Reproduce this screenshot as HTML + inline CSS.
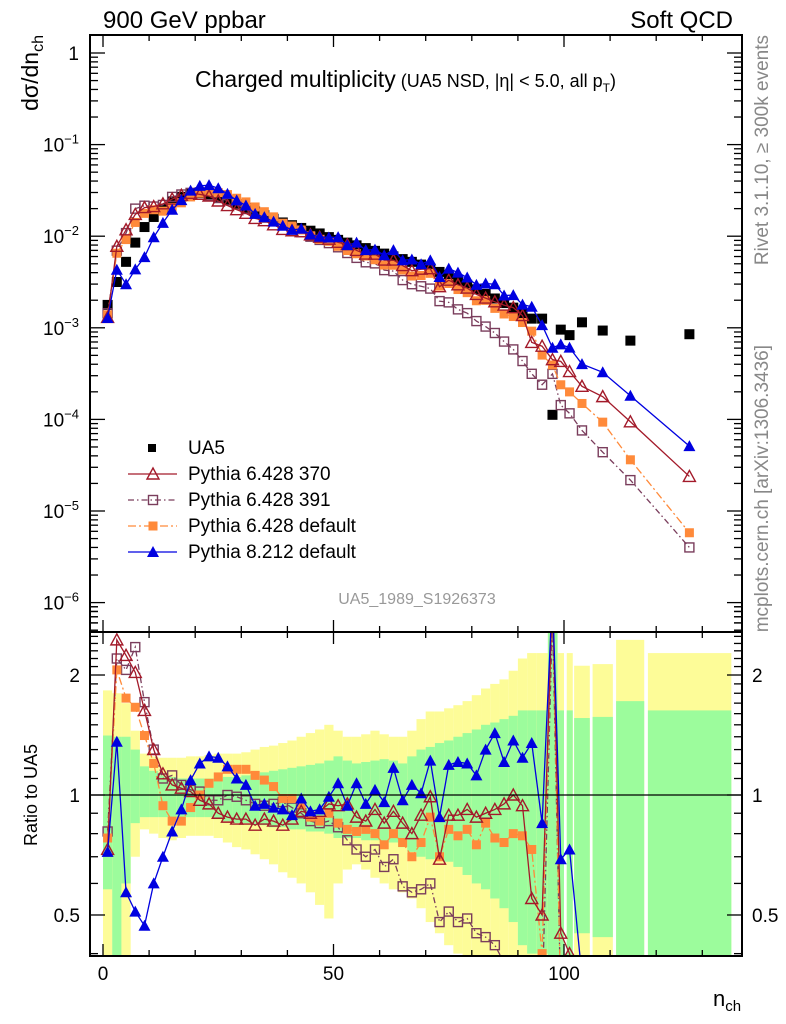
<!DOCTYPE html>
<html><head><meta charset="utf-8"><style>
html,body{margin:0;padding:0;background:#fff;width:786px;height:1024px;overflow:hidden}
svg{display:block;font-family:"Liberation Sans",sans-serif}
</style></head><body>
<svg id="chart" width="786" height="1024" viewBox="0 0 786 1024" xmlns="http://www.w3.org/2000/svg">
<defs>
<clipPath id="cpTop"><rect x="90" y="35" width="652" height="597"/></clipPath>
<clipPath id="cpBot"><rect x="90" y="632" width="652" height="324"/></clipPath>
</defs>
<rect x="0" y="0" width="786" height="1024" fill="#fff"/>
<g id="bands" clip-path="url(#cpBot)"></g>
<g id="marksTop" clip-path="url(#cpTop)"></g>
<g id="marksBot" clip-path="url(#cpBot)"></g>
<g id="axes"></g>
<text x="103" y="28" font-size="24">900 GeV ppbar</text>
<text x="733" y="28" font-size="24" text-anchor="end">Soft QCD</text>
<text x="195" y="87" font-size="23">Charged multiplicity<tspan font-size="18" dx="5">(UA5 NSD, |η| &lt; 5.0, all p</tspan><tspan font-size="12" dy="5">T</tspan><tspan font-size="18" dy="-5">)</tspan></text>
<text transform="translate(38,35) rotate(-90)" font-size="23" text-anchor="end">dσ/dn<tspan font-size="16" dy="5">ch</tspan></text>
<text transform="translate(37,795) rotate(-90)" font-size="18" text-anchor="middle">Ratio to UA5</text>
<text transform="translate(768,35) rotate(-90)" font-size="19" fill="#888" text-anchor="end">Rivet 3.1.10, ≥ 300k events</text>
<text transform="translate(768,345) rotate(-90)" font-size="19" fill="#888" text-anchor="end">mcplots.cern.ch [arXiv:1306.3436]</text>
<text x="417" y="604" font-size="16" fill="#999" text-anchor="middle">UA5_1989_S1926373</text>
<text x="713" y="1006" font-size="22">n<tspan font-size="15" dy="5">ch</tspan></text>
<g id="legend"></g>
</svg>
<script>
// ---- data ----
const nch = [1,3,5,7,9,11,13,15,17,19,21,23,25,27,29,31,33,35,37,39,41,43,45,47,49,51,53,55,57,59,61,63,65,67,69,71,73,75,77,79,81,83,85,87,89,91,93,95.25,97.5,99.3,101.2,103.9,108.4,114.4,127.2];
const binLo = [0,2,4,6,8,10,12,14,16,18,20,22,24,26,28,30,32,34,36,38,40,42,44,46,48,50,52,54,56,58,60,62,64,66,68,70,72,74,76,78,80,82,84,86,88,90,92,94,96.5,98.6,100.6,102.2,106.2,111.3,118.2];
const binHi = [2,4,6,8,10,12,14,16,18,20,22,24,26,28,30,32,34,36,38,40,42,44,46,48,50,52,54,56,58,60,62,64,66,68,70,72,74,76,78,80,82,84,86,88,90,92,94,96.5,98.6,100,101.9,105.6,110.6,117.4,136.3];
// UA5 log10(dsigma/dn)
const ua5Log = [-2.75,-2.50,-2.28,-2.07,-1.90,-1.79,-1.70,-1.62,-1.57,-1.54,-1.53,-1.54,-1.57,-1.61,-1.65,-1.69,-1.73,-1.77,-1.81,-1.85,-1.88,-1.91,-1.94,-1.97,-2.01,-2.04,-2.07,-2.10,-2.13,-2.16,-2.19,-2.22,-2.25,-2.28,-2.31,-2.35,-2.39,-2.43,-2.48,-2.53,-2.58,-2.63,-2.68,-2.73,-2.78,-2.84,-2.90,-2.90,-3.95,-3.02,-3.08,-2.94,-3.03,-3.14,-3.07];
// MC / UA5 ratios
const r370 = [0.73,2.45,2.24,2.03,1.63,1.30,1.13,1.06,1.04,1.02,0.97,0.95,0.90,0.88,0.87,0.87,0.84,0.87,0.86,0.84,0.87,0.91,0.90,0.91,0.95,0.94,0.95,0.88,0.86,0.92,0.85,0.91,0.85,0.80,0.89,0.99,0.69,0.89,0.89,0.92,0.88,0.90,0.92,0.95,1.00,0.94,0.55,0.50,4.0,0.45,0.40,0.20,0.19,0.13,0.028];
const r391 = [0.81,2.20,2.06,2.35,1.71,1.30,1.10,1.12,1.06,1.03,1.02,0.97,0.97,1.00,0.99,0.97,0.95,0.94,0.95,0.96,0.93,0.90,0.86,0.85,0.86,0.83,0.77,0.73,0.70,0.73,0.66,0.69,0.59,0.57,0.58,0.60,0.48,0.51,0.48,0.49,0.45,0.44,0.42,0.38,0.35,0.30,0.25,0.19,2.8,0.15,0.14,0.066,0.047,0.030,0.0047];
const rDef = [0.78,2.06,1.75,1.66,1.41,1.20,0.94,0.86,0.86,0.93,1.00,1.07,1.11,1.16,1.16,1.16,1.12,1.09,1.05,0.98,0.98,0.95,0.88,0.86,0.90,0.85,0.82,0.81,0.82,0.80,0.75,0.80,0.76,0.70,0.76,0.88,0.70,0.82,0.79,0.82,0.75,0.85,0.78,0.76,0.80,0.79,0.73,0.40,3.5,0.25,0.24,0.13,0.10,0.050,0.0068];
const rP8 = [0.72,1.36,0.57,0.51,0.47,0.60,0.70,0.81,0.92,1.09,1.20,1.25,1.24,1.18,1.10,1.06,0.94,0.95,0.93,0.92,0.89,0.98,0.91,0.92,0.99,1.07,0.94,1.07,0.95,1.03,0.96,1.17,0.97,1.06,1.01,1.22,0.88,1.19,1.21,1.20,1.12,1.30,1.43,1.21,1.37,1.24,1.35,0.85,5.4,0.69,0.73,0.35,0.35,0.25,0.06];
// UA5 uncertainty bands (ratio units)
const yellowHi = [1.83,1.80,1.70,1.45,1.27,1.25,1.24,1.24,1.24,1.25,1.25,1.26,1.27,1.27,1.27,1.28,1.30,1.32,1.33,1.35,1.37,1.40,1.43,1.46,1.50,1.45,1.40,1.40,1.42,1.45,1.42,1.40,1.40,1.45,1.55,1.62,1.62,1.65,1.68,1.72,1.78,1.85,1.90,1.95,2.05,2.20,2.27,2.27,2.6,2.27,2.27,2.11,2.13,2.45,2.27];
const greenHi = [1.41,1.40,1.40,1.30,1.18,1.15,1.12,1.11,1.10,1.10,1.10,1.10,1.10,1.11,1.11,1.12,1.13,1.14,1.15,1.16,1.17,1.18,1.19,1.20,1.22,1.25,1.22,1.20,1.21,1.22,1.23,1.22,1.20,1.25,1.30,1.32,1.35,1.37,1.40,1.43,1.46,1.50,1.52,1.55,1.58,1.63,1.63,1.63,2.6,1.63,1.63,1.56,1.57,1.72,1.63];
const greenLo = [0.58,0.39,0.60,0.85,0.88,0.88,0.88,0.88,0.88,0.88,0.88,0.88,0.87,0.86,0.85,0.85,0.84,0.84,0.83,0.83,0.82,0.82,0.81,0.81,0.80,0.78,0.78,0.78,0.77,0.77,0.76,0.76,0.74,0.72,0.70,0.69,0.69,0.68,0.66,0.63,0.60,0.58,0.55,0.52,0.48,0.42,0.40,0.40,0.39,0.39,0.39,0.45,0.44,0.39,0.39];
const yellowLo = [0.39,0.39,0.39,0.70,0.82,0.80,0.78,0.77,0.78,0.79,0.79,0.79,0.78,0.76,0.74,0.73,0.71,0.69,0.67,0.64,0.62,0.60,0.57,0.53,0.49,0.60,0.65,0.67,0.65,0.62,0.60,0.58,0.57,0.55,0.52,0.48,0.45,0.42,0.40,0.39,0.39,0.39,0.39,0.39,0.39,0.39,0.39,0.39,0.39,0.39,0.39,0.39,0.39,0.39,0.39];
const xTicks = [0,50,100];
const ratioTicks = [0.5,1,2];
const logTicks = [0,-1,-2,-3,-4,-5,-6];

// ---- axes functions ----
const X = v => 103 + v*4.61;
const YT = lg => 53 - lg*91.6;
const YR = r => 795 - Math.log10(Math.min(3.2, Math.max(0.3, r)))*398.6;
const NS = 'http://www.w3.org/2000/svg';
function mk(tag, attrs, parent){const e=document.createElementNS(NS,tag);for(const k in attrs)e.setAttribute(k,attrs[k]);parent.appendChild(e);return e;}

const bands = document.getElementById('bands');
for(let i=0;i<nch.length;i++){
  const x0=X(binLo[i]), w=X(binHi[i])-X(binLo[i]);
  const y1=mk('rect',{x:x0,y:YR(yellowHi[i]),width:w,height:YR(yellowLo[i])-YR(yellowHi[i]),fill:'#fdfc98'},bands);
  
  
  const g1=mk('rect',{x:x0,y:YR(greenHi[i]),width:w,height:YR(greenLo[i])-YR(greenHi[i]),fill:'#9cfc9c'},bands);
  
  
}
const axes=document.getElementById('axes');
const one=mk('line',{x1:90,x2:742,y1:YR(1),y2:YR(1),stroke:'#000','stroke-width':1.2},axes);



function marker(parent,type,x,y,color){
  let e;
  if(type==='sq') e=mk('rect',{x:x-5,y:y-5,width:10,height:10,fill:color},parent);
  else if(type==='osq') e=mk('rect',{x:x-4.5,y:y-4.5,width:9,height:9,fill:'none',stroke:color,'stroke-width':1.4},parent);
  else if(type==='fsq') e=mk('rect',{x:x-4.5,y:y-4.5,width:9,height:9,fill:color},parent);
  else if(type==='otri') e=mk('polygon',{points:`${x},${y-6} ${x-6},${y+5} ${x+6},${y+5}`,fill:'none',stroke:color,'stroke-width':1.4},parent);
  else e=mk('polygon',{points:`${x},${y-6} ${x-6},${y+5} ${x+6},${y+5}`,fill:color},parent);
  return e;
}
const series=[
 {name:'pythia-6428-391',r:r391,color:'#7a3d5c',m:'osq',dash:'6,3,1.5,3'},
 {name:'pythia-6428-default',r:rDef,color:'#ff8a3a',m:'fsq',dash:'8,3,2,3'},
 {name:'pythia-6428-370',r:r370,color:'#a31a2a',m:'otri',dash:'none'},
 {name:'pythia-8212-default',r:rP8,color:'#0000e0',m:'tri',dash:'none'}
];
const topG=document.getElementById('marksTop'), botG=document.getElementById('marksBot');
for(let i=0;i<nch.length;i++){
  const s=marker(topG,'sq',X(nch[i]),YT(ua5Log[i]),'#000');
  
  
}
series.forEach(se=>{
  const ptsT=nch.map((n,i)=>`${X(n)},${YT(ua5Log[i]+Math.log10(se.r[i]))}`).join(' ');
  const ptsB=nch.map((n,i)=>`${X(n)},${YR(se.r[i])}`).join(' ');
  const lt=mk('polyline',{points:ptsT,fill:'none',stroke:se.color,'stroke-width':1.3,'stroke-dasharray':se.dash},topG);
  
  
  const lb=mk('polyline',{points:ptsB,fill:'none',stroke:se.color,'stroke-width':1.3,'stroke-dasharray':se.dash},botG);
  
  
  nch.forEach((n,i)=>{
    const a=marker(topG,se.m,X(n),YT(ua5Log[i]+Math.log10(se.r[i])),se.color);
    
    
    const b=marker(botG,se.m,X(n),YR(se.r[i]),se.color);
    
    
  });
});
const f1=mk('rect',{x:90,y:35,width:652,height:597,fill:'none',stroke:'#000','stroke-width':2},axes);


const f2=mk('rect',{x:90,y:632,width:652,height:324,fill:'none',stroke:'#000','stroke-width':2},axes);


function tick(x1,y1,x2,y2){const t=mk('line',{x1:x1,y1:y1,x2:x2,y2:y2,stroke:'#000','stroke-width':1.3},axes);}
for(let v=0;v<=130;v+=10){
  const L=(v%50===0)?12:6, x=X(v);
  tick(x,35,x,35+L); tick(x,632,x,632-L); tick(x,632,x,632+L); tick(x,956,x,956-L);
}
xTicks.forEach(v=>{const t=mk('text',{x:X(v),y:980,'font-size':19,'text-anchor':'middle'},axes);t.textContent=v;});
for(let d=0;d>=-6;d--){
  const y=YT(d); tick(90,y,105,y); tick(742,y,727,y);
  for(let m=2;m<=9;m++){const yy=YT(d-1+Math.log10(m)); if(yy>35&&yy<632){tick(90,yy,98,yy);tick(742,yy,734,yy);}}
}
for(let m=2;m<=9;m++){const yy=YT(-7+Math.log10(m)); if(yy>35&&yy<632){tick(90,yy,98,yy);tick(742,yy,734,yy);}}
logTicks.forEach(d=>{
  const t=mk('text',{x:79,y:YT(d)+7,'font-size':19,'text-anchor':'end'},axes);
  
  
  if(d===0) t.textContent='1';
  else { t.textContent='10'; const s=mk('tspan',{'font-size':13,dy:-8},t); s.textContent='−'+(-d); }
});
[0.4,0.5,0.6,0.7,0.8,0.9,1,1.1,1.2,1.3,1.4,1.5,1.6,1.7,1.8,1.9,2,2.1,2.2,2.3,2.4,2.5].forEach(r=>{
  const y=YR(r); if(y<633||y>955) return;
  const L=ratioTicks.includes(r)?15:8; tick(90,y,90+L,y); tick(742,y,742-L,y);
});
ratioTicks.forEach(r=>{
  const a=mk('text',{x:80,y:YR(r)+7,'font-size':19,'text-anchor':'end'},axes);a.textContent=r;
  
  
  const b=mk('text',{x:752,y:YR(r)+7,'font-size':19},axes);b.textContent=r;
  
  
});
const lg=document.getElementById('legend');
const entries=[{t:'UA5',c:'#000',m:'sq',line:false},{t:'Pythia 6.428 370',c:'#a31a2a',m:'otri',line:true,d:'none'},{t:'Pythia 6.428 391',c:'#7a3d5c',m:'osq',line:true,d:'6,3,1.5,3'},{t:'Pythia 6.428 default',c:'#ff8a3a',m:'fsq',line:true,d:'8,3,2,3'},{t:'Pythia 8.212 default',c:'#0000e0',m:'tri',line:true,d:'none'}];
entries.forEach((e,i)=>{
  const y=448+i*26;
  const g=mk('g',{},lg);
  
  
  if(e.line) mk('line',{x1:128,x2:177,y1:y,y2:y,stroke:e.c,'stroke-width':1.3,'stroke-dasharray':e.d},g);
  if(e.m==='sq') mk('rect',{x:148,y:y-4,width:8,height:8,fill:'#000'},g); else marker(g,e.m,153,y,e.c);
  const t=mk('text',{x:188,y:y+6,'font-size':19},g); t.textContent=e.t;
});
</script>
</body></html>
